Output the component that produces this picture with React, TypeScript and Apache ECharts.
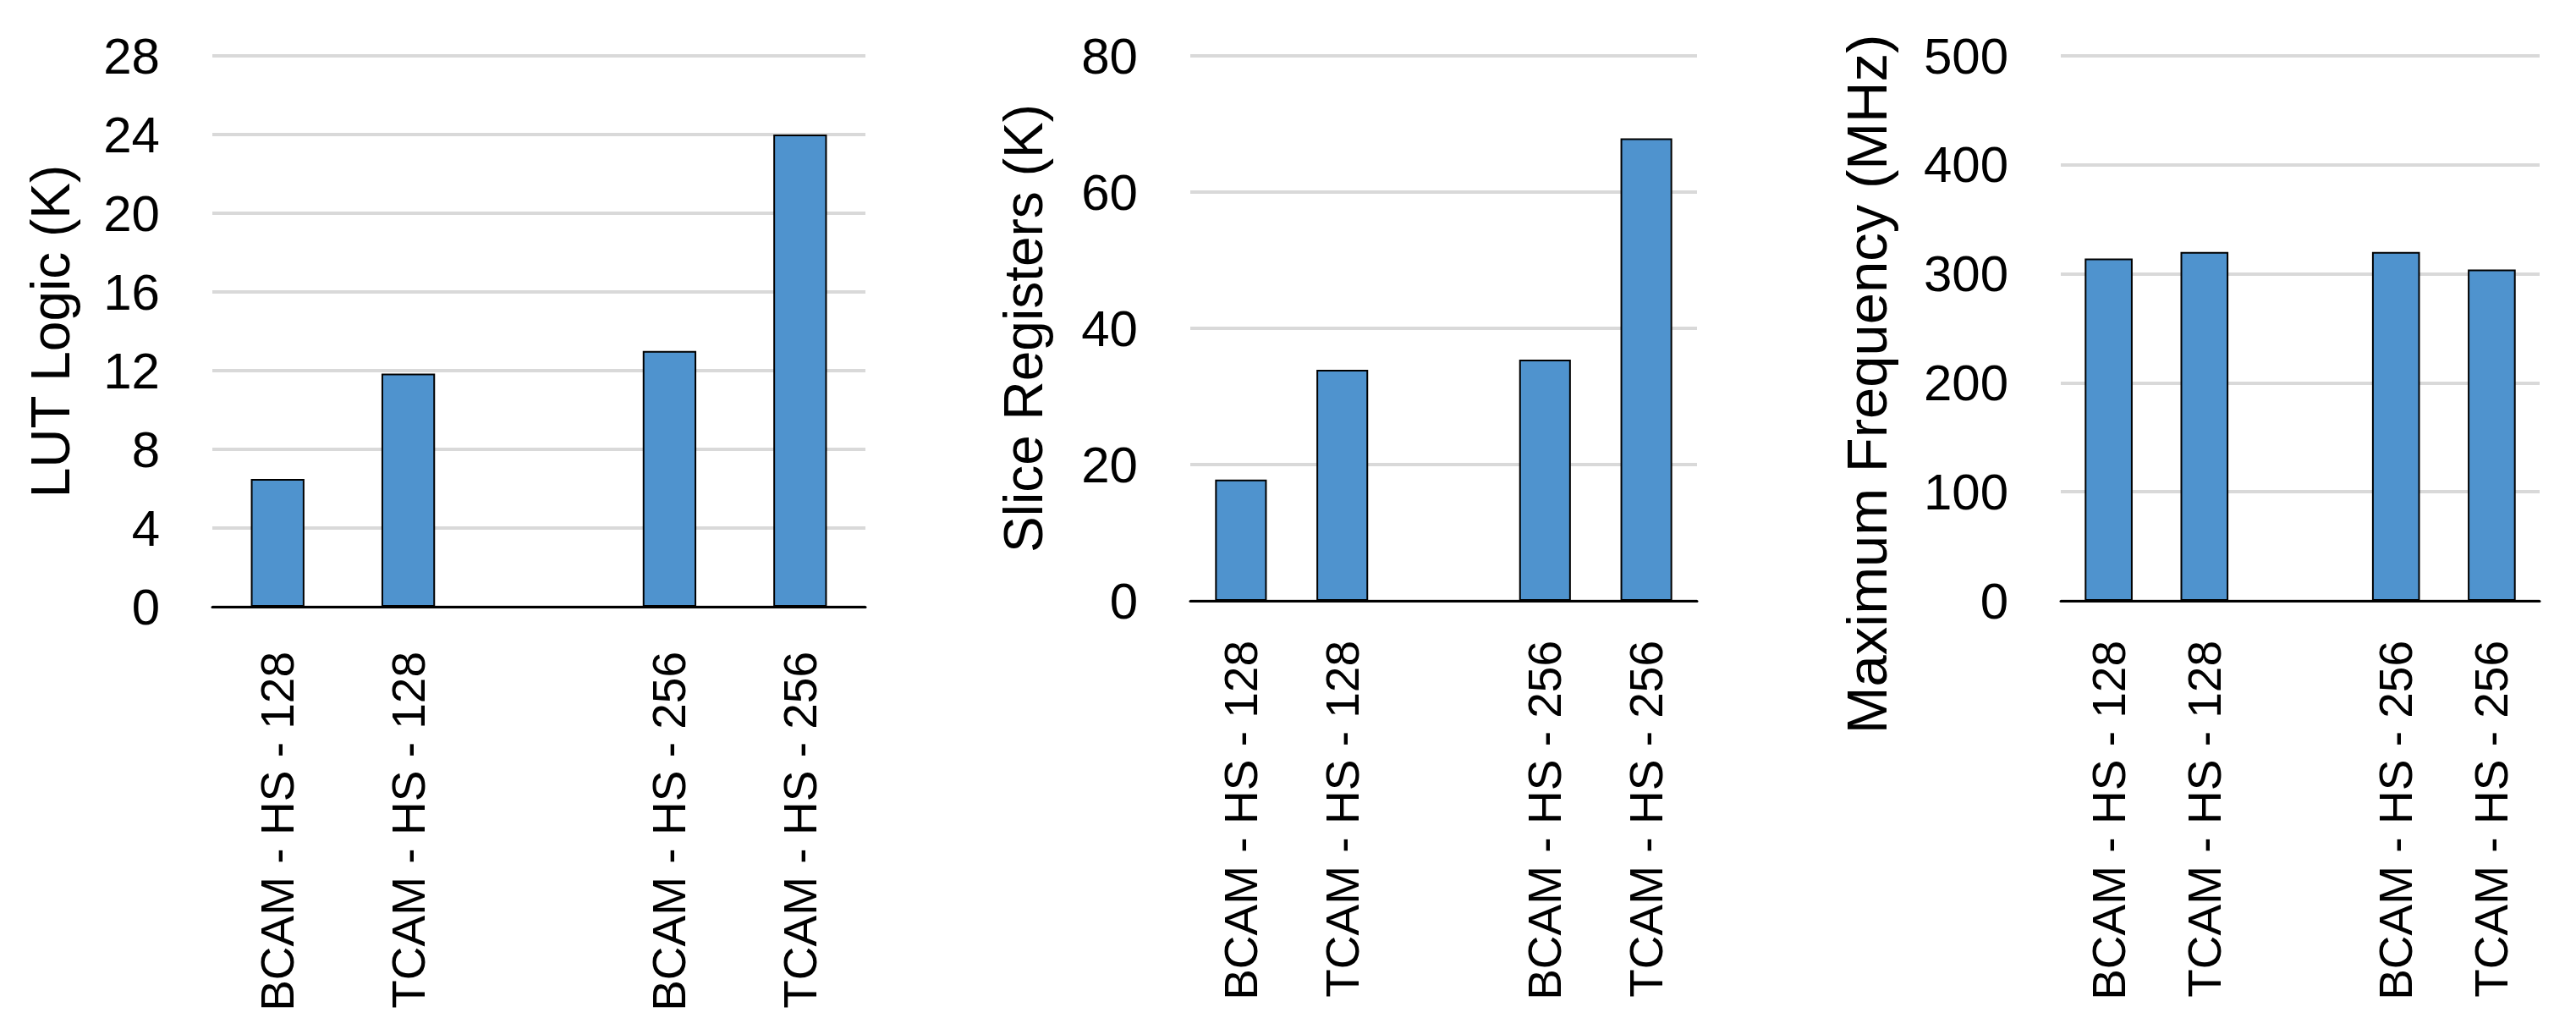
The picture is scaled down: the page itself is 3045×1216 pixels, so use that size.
import React, { useEffect, useRef } from 'react';
import * as echarts from 'echarts';

const categories = ['BCAM - HS - 128', 'TCAM - HS - 128', '', 'BCAM - HS - 256', 'TCAM - HS - 256'];
const lutLogic = [6.5, 11.85, '-', 13.0, 24.0];
const sliceRegisters = [17.8, 33.9, '-', 35.4, 67.9];
const maxFrequency = [314, 320, '-', 320, 304];
const yNames = ['LUT Logic (K)', 'Slice Registers (K)', 'Maximum Frequency (MHz)'];
const yMax = [28, 80, 500];
const yInterval = [4, 20, 100];

const FONT = '"Liberation Sans", Arial, sans-serif';
const BAR_COLOR = '#4F93CE';

export default function App() {
  const ref = useRef<HTMLDivElement>(null);
  useEffect(() => {
    if (!ref.current) return;
    const chart = echarts.init(ref.current, null, { renderer: 'svg' });
    const grids = [
      { left: 251, top: 66, width: 772, height: 651 },
      { left: 1407, top: 66, width: 599, height: 644 },
      { left: 2436, top: 66, width: 566, height: 644 },
    ];
    const nameGaps = [159, 165, 196];
    const nameSizes = [64, 64, 67];
    const namePads = [
      [0, 0, 0, 0],
      [0, 0, 0, 0],
      [0, 132, 0, 0],
    ];
    const barWidths = ['41%', '51%', '50%'];
    const xMargins = [53, 47, 47];
    const seriesData = [lutLogic, sliceRegisters, maxFrequency];
    const option: any = {
      animation: false,
      backgroundColor: '#ffffff',
      textStyle: { fontFamily: FONT, color: '#000' },
      grid: grids.map((g) => ({ ...g, containLabel: false, outerBoundsMode: 'none' })),
      xAxis: grids.map((_, i) => ({
        type: 'category',
        gridIndex: i,
        data: categories,
        axisLine: { show: true, lineStyle: { color: '#000', width: 3 } },
        axisTick: { show: false },
        axisLabel: {
          interval: 0,
          rotate: 90,
          margin: xMargins[i],
          fontSize: 55,
          color: '#000',
          fontFamily: FONT,
        },
        splitLine: { show: false },
      })),
      yAxis: grids.map((_, i) => ({
        type: 'value',
        gridIndex: i,
        min: 0,
        max: yMax[i],
        interval: yInterval[i],
        name: yNames[i],
        nameLocation: 'middle',
        nameGap: nameGaps[i],
        nameRotate: 90,
        nameTextStyle: { fontSize: nameSizes[i], color: '#000', fontFamily: FONT, padding: namePads[i] },
        axisLine: { show: false },
        axisTick: { show: false },
        axisLabel: { fontSize: 60, color: '#000', margin: 62, fontFamily: FONT },
        splitLine: { show: true, lineStyle: { color: '#D9D9D9', width: 4 } },
      })),
      series: seriesData.map((d, i) => ({
        type: 'bar',
        xAxisIndex: i,
        yAxisIndex: i,
        data: d,
        barWidth: barWidths[i],
        itemStyle: { color: BAR_COLOR, borderColor: '#000', borderWidth: 2 },
      })),
    };
    chart.setOption(option);
    return () => chart.dispose();
  }, []);
  return (
    <div
      ref={ref}
      style={{ position: 'fixed', left: 0, top: 0, width: 3045, height: 1216, background: '#fff' }}
    />
  );
}
